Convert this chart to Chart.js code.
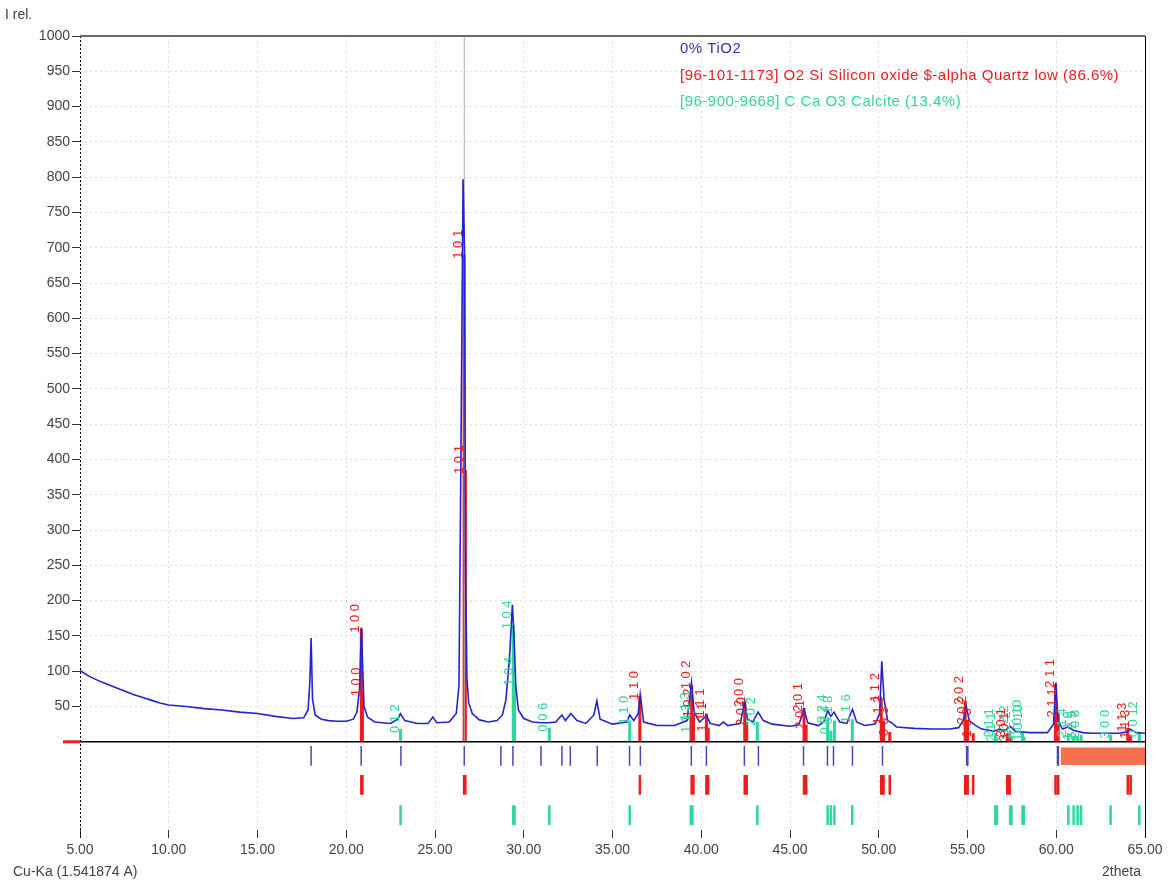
<!DOCTYPE html>
<html>
<head>
<meta charset="utf-8">
<title>XRD 0% TiO2</title>
<script src="https://cdn.jsdelivr.net/npm/chart.js@4.4.1/dist/chart.umd.min.js"></script>
<style>
  body { margin: 0; background: #fff; }
  canvas { display: block; }
</style>
</head>
<body>
<canvas id="xrd" width="1169" height="882"></canvas>
<script>
// Datos del difractograma (2theta, intensidad relativa)
const obsTheta = [
  5.0, 5.5, 6.0, 6.5, 7.0, 7.5, 8.0, 8.5, 9.0, 9.5,
  10.0, 11.0, 12.0, 13.0, 14.0, 15.0, 16.0, 17.0, 17.6, 17.85,
  17.95, 18.02, 18.1, 18.25, 18.6, 19.0, 19.5, 20.0, 20.4, 20.6,
  20.75, 20.85, 20.92, 21.0, 21.2, 21.6, 22.0, 22.5, 22.9, 23.05,
  23.3, 24.0, 24.6, 24.88, 25.1, 25.8, 26.2, 26.35, 26.45, 26.58,
  26.66, 26.72, 26.8, 26.9, 27.1, 27.5, 28.0, 28.5, 28.8, 29.0,
  29.2, 29.36, 29.45, 29.55, 29.7, 30.0, 30.5, 31.0, 31.4, 31.8,
  32.15, 32.35, 32.65, 33.0, 33.5, 33.95, 34.12, 34.3, 35.0, 35.8,
  35.97, 36.2, 36.45, 36.56, 36.75, 37.5, 38.5, 39.2, 39.45, 39.6,
  39.9, 40.3, 40.5, 41.0, 41.25, 41.5, 42.2, 42.45, 42.6, 42.9,
  43.2, 43.5, 44.0, 45.0, 45.5, 45.78, 46.0, 46.6, 46.9, 47.13,
  47.3, 47.48, 47.8, 48.2, 48.52, 48.75, 49.2, 49.8, 50.05, 50.17,
  50.3, 50.5, 50.72, 51.0, 52.0, 53.0, 54.0, 54.5, 54.75, 54.93,
  55.1, 55.4, 55.8, 56.5, 56.8, 57.1, 57.4, 57.7, 58.5, 59.5,
  59.85, 59.98, 60.1, 60.35, 60.65, 61.0, 61.5, 62.0, 63.0, 63.5,
  64.0, 64.15, 64.5, 65.0
];
const obsCounts = [
  101, 93, 87, 82, 77, 72, 67, 63, 59, 55,
  52, 50, 47, 45, 42, 40, 36, 33, 34, 45,
  85, 147, 60, 38, 32, 30, 29, 29, 32, 42,
  75, 162, 110, 50, 35, 28, 27, 26, 32, 40,
  30, 26, 26, 35, 27, 28, 40, 80, 370, 797,
  700, 240, 90, 55, 40, 31, 28, 30, 38, 60,
  120, 194, 150, 80, 45, 33, 28, 27, 27, 28,
  38, 30, 40, 30, 26, 38, 58, 32, 25, 28,
  38, 30, 40, 67, 28, 23, 23, 30, 84, 42,
  28, 37, 26, 23, 28, 23, 26, 58, 32, 28,
  42, 30, 25, 22, 24, 46, 27, 23, 28, 44,
  36, 42, 28, 26, 46, 28, 23, 25, 40, 114,
  60, 30, 27, 21, 19, 18, 18, 20, 30, 50,
  30, 24, 18, 15, 18, 15, 22, 15, 13, 13,
  25, 84, 30, 18, 21, 16, 13, 12, 12, 12,
  14, 18, 13, 12
];

// Picos encontrados en el patron medido
const obsPeaks = [18.02, 20.84, 23.08, 26.65, 28.71, 29.39, 30.97, 32.15, 32.62, 34.14,
  35.96, 36.57, 39.44, 40.29, 42.43, 43.22, 45.76, 47.11, 47.45, 48.52,
  50.21, 54.95, 55.02, 60.07, 60.12];
const obsPeakRange = [60.24, 65.0];

// Fase 1: cuarzo [96-101-1173]
const quartzPos = [20.85, 20.91, 26.64, 26.71, 36.54, 39.46, 39.56, 40.29, 40.39, 42.45,
  42.56, 45.79, 45.91, 50.14, 50.27, 50.62, 54.87, 55.01, 55.32, 57.24,
  57.38, 59.96, 60.11, 64.03, 64.19];
const quartzInt = [160, 70, 690, 385, 65, 80, 40, 40, 20, 55,
  28, 48, 24, 62, 30, 14, 58, 30, 12, 12,
  6, 82, 40, 20, 10];
const quartzHkl = ['1 0 0', '1 0 0', '1 0 1', '1 0 1', '1 1 0', '1 0 2', '1 0 2', '1 1 1', '1 1 1', '2 0 0',
  '2 0 0', '2 0 1', '2 0 1', '1 1 2', '1 1 2', '0 0 3', '2 0 2', '2 0 2', '1 0 3', '3 0 1',
  '3 0 1', '2 1 1', '2 1 1', '1 1 3', '1 1 3'];

// Fase 2: calcita [96-900-9668]
const calcitePos = [23.06, 29.41, 29.48, 31.44, 35.97, 39.41, 39.50, 43.16, 47.12, 47.30,
  47.50, 48.51, 56.57, 56.66, 57.40, 57.48, 58.10, 58.18, 60.68, 60.98,
  61.20, 61.40, 63.06, 64.68];
const calciteInt = [18, 165, 85, 20, 30, 35, 18, 28, 32, 16,
  30, 32, 12, 6, 16, 8, 14, 7, 12, 8,
  8, 10, 10, 12];
const calciteHkl = ['0 1 2', '1 0 4', '1 0 4', '0 0 6', '1 1 0', '1 1 3', '1 1 3', '2 0 2', '0 2 4', '0 2 4',
  '0 1 8', '1 1 6', '2 1 1', '2 1 1', '1 2 2', '1 2 2', '1 0 10', '1 0 10', '2 1 4', '1 1 9',
  '1 2 5', '2 0 8', '3 0 0', '0 0 12'];

const cursorTheta = 26.65;
const xTickValues = [5, 10, 15, 20, 25, 30, 35, 40, 45, 50, 55, 60, 65];
const yTickValues = [50, 100, 150, 200, 250, 300, 350, 400, 450, 500,
  550, 600, 650, 700, 750, 800, 850, 900, 950, 1000];
const legendLabels = ['0% TiO2',
  '[96-101-1173] O2 Si Silicon oxide $-alpha Quartz low (86.6%)',
  '[96-900-9668] C Ca O3 Calcite (13.4%)'];

// niveles de las filas de marcas bajo el cero (unidades de intensidad)
const ROWS = { obs: [-6, -34], quartz: [-47, -75], calcite: [-90, -118] };

const BLUE = '#2323cf';
const RED = '#ee1c1c';
const GREEN = '#2fd6a0';
const FONT = '"Liberation Sans", Arial, sans-serif';

function sticks(pos, lo, hi) {
    const pts = [];
    pos.forEach((p, i) => {
        pts.push({ x: p, y: lo });
        pts.push({ x: p, y: Array.isArray(hi) ? hi[i] : hi });
        pts.push({ x: p, y: null });
    });
    return pts;
}

const curve = obsTheta.map((t, i) => ({ x: t, y: obsCounts[i] }));

// Plugin para bordes, textos y etiquetas hkl
const decoraciones = {
    id: 'decoraciones',
    afterDatasetsDraw(chart) {
        const { ctx, chartArea: a, scales: { x, y } } = chart;
        const y0 = y.getPixelForValue(0);
        ctx.save();

        // etiquetas hkl giradas
        ctx.font = '13px ' + FONT;
        ctx.textBaseline = 'bottom';
        ctx.textAlign = 'left';
        const etiquetas = (pos, inten, hkl, color) => {
            ctx.fillStyle = color;
            pos.forEach((p, i) => {
                ctx.save();
                ctx.translate(x.getPixelForValue(p) + 1, y.getPixelForValue(inten[i]) + 4);
                ctx.rotate(-Math.PI / 2);
                ctx.fillText(hkl[i], 0, 0);
                ctx.restore();
            });
        };
        etiquetas(calcitePos, calciteInt, calciteHkl, GREEN);
        etiquetas(quartzPos, quartzInt, quartzHkl, RED);

        // eje izquierdo punteado
        ctx.strokeStyle = '#000';
        ctx.lineWidth = 1;
        ctx.setLineDash([2, 2]);
        ctx.beginPath();
        ctx.moveTo(a.left + 0.5, a.top);
        ctx.lineTo(a.left + 0.5, a.bottom + 8);
        ctx.stroke();
        ctx.setLineDash([]);

        // borde superior y derecho
        ctx.strokeStyle = '#6a6a6a';
        ctx.lineWidth = 2;
        ctx.beginPath();
        ctx.moveTo(a.left, a.top);
        ctx.lineTo(a.right, a.top);
        ctx.stroke();
        ctx.strokeStyle = '#000';
        ctx.lineWidth = 1;
        ctx.beginPath();
        ctx.moveTo(a.right + 0.5, a.top);
        ctx.lineTo(a.right + 0.5, a.bottom + 8);
        ctx.stroke();

        // linea de cero
        ctx.lineWidth = 1.5;
        ctx.beginPath();
        ctx.moveTo(a.left, y0);
        ctx.lineTo(a.right, y0);
        ctx.stroke();
        ctx.strokeStyle = RED;
        ctx.lineWidth = 3;
        ctx.beginPath();
        ctx.moveTo(a.left - 17, y0);
        ctx.lineTo(a.left, y0);
        ctx.stroke();

        // textos de ejes
        ctx.font = '14px ' + FONT;
        ctx.fillStyle = '#444';
        ctx.textBaseline = 'middle';
        ctx.textAlign = 'left';
        ctx.fillText('I rel.', 5, 15);
        ctx.fillText('Cu-Ka (1.541874 A)', 13, 872);
        ctx.textAlign = 'right';
        ctx.fillText('2theta', 1141, 872);

        // leyenda
        ctx.font = '15px ' + FONT;
        ctx.letterSpacing = '0.5px';
        ctx.textAlign = 'left';
        const colores = ['#3434b4', RED, GREEN];
        legendLabels.forEach((t, i) => {
            ctx.fillStyle = colores[i];
            ctx.fillText(t, 680, 49 + i * 26.5);
        });
        ctx.restore();
    }
};

document.addEventListener('DOMContentLoaded', function () {
    const ctx = document.getElementById('xrd');
    new Chart(ctx, {
        type: 'scatter',
        data: {
            datasets: [
                { label: legendLabels[0], data: curve, showLine: true, borderColor: BLUE, borderWidth: 1.6, pointRadius: 0 },
                { label: 'cursor', data: [{ x: cursorTheta, y: 0 }, { x: cursorTheta, y: 1000 }], showLine: true, borderColor: '#b0b0b0', borderWidth: 1, pointRadius: 0 },
                { label: 'quartz', data: sticks(quartzPos, 0, quartzInt), showLine: true, borderColor: RED, borderWidth: 3, pointRadius: 0 },
                { label: 'calcite', data: sticks(calcitePos, 0, calciteInt), showLine: true, borderColor: GREEN, borderWidth: 3, pointRadius: 0 },
                { label: 'picos', data: sticks(obsPeaks, ROWS.obs[0], ROWS.obs[1]), showLine: true, borderColor: '#4848b8', borderWidth: 1.5, pointRadius: 0 },
                { label: 'rango', data: obsPeakRange.map(t => ({ x: t, y: -8 })), showLine: true, borderWidth: 0, pointRadius: 0, backgroundColor: '#f4704e', fill: { value: -33 } },
                { label: 'quartz ticks', data: sticks(quartzPos, ROWS.quartz[0], ROWS.quartz[1]), showLine: true, borderColor: RED, borderWidth: 2.5, pointRadius: 0 },
                { label: 'calcite ticks', data: sticks(calcitePos, ROWS.calcite[0], ROWS.calcite[1]), showLine: true, borderColor: GREEN, borderWidth: 2.5, pointRadius: 0 }
            ]
        },
        options: {
            responsive: false,
            animation: false,
            layout: { padding: { left: 0, top: 36, right: 24, bottom: 0 } },
            plugins: { legend: { display: false }, tooltip: { enabled: false } },
            scales: {
                x: {
                    type: 'linear', min: 5, max: 65,
                    afterBuildTicks: axis => { axis.ticks = xTickValues.map(v => ({ value: v })); },
                    afterFit: s => { s.height = 52; },
                    ticks: { callback: v => v.toFixed(2), font: { size: 14, family: FONT }, color: '#444', maxRotation: 0, padding: 4 },
                    grid: { color: '#e0e0e0', tickColor: '#333', tickLength: 8 },
                    border: { display: false, dash: [2, 3] }
                },
                y: {
                    min: -125, max: 1000,
                    afterBuildTicks: axis => { axis.ticks = yTickValues.map(v => ({ value: v })); },
                    afterFit: s => { s.width = 80; },
                    ticks: { callback: v => String(v), font: { size: 14, family: FONT }, color: '#444', padding: 2 },
                    grid: { color: '#e0e0e0', tickColor: '#333', tickLength: 8 },
                    border: { display: false, dash: [2, 3] }
                }
            }
        },
        plugins: [decoraciones]
    });
});
</script>
</body>
</html>
